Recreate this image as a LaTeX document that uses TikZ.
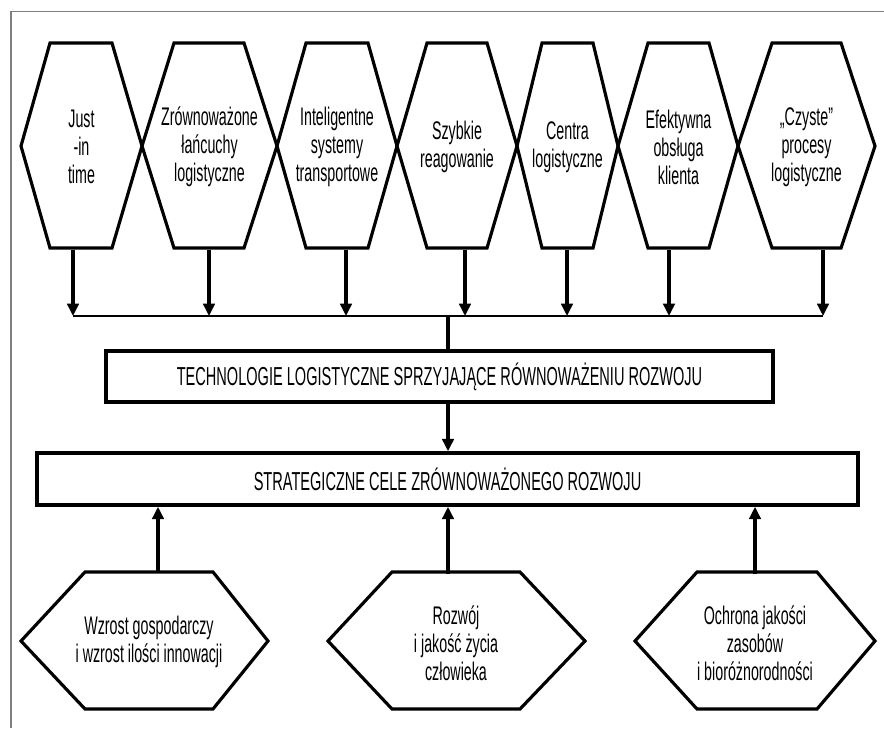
\documentclass[tikz,border=0pt]{standalone}
\usepackage{fontspec}
\setmainfont{Liberation Sans}[FakeStretch=0.56]
\usetikzlibrary{arrows.meta}

\begin{document}
\begin{tikzpicture}[x=0.02cm,y=-0.02cm,
  hexline/.style={line width=1.8pt,line join=miter},
  hexnode/.style={align=center,inner sep=0pt,minimum width=2cm,font=\fontsize{14.5}{16}\selectfont},
  goalbox/.style={draw,line width=2pt,inner sep=0pt,font=\fontsize{14.8}{17}\selectfont},
  arr/.style={line width=1.9pt,-{Triangle[length=7pt,width=6.5pt]}}]
\useasboundingbox (0,0) rectangle (884,728);
\draw[gray,line width=0.6pt] (11,728) -- (11,11.5) -- (884,11.5);

% top row
\draw[hexline] (21,146) -- (50,43) -- (112,43) -- (142,146) -- (112,248) -- (50,248) -- cycle;
\draw[hexline] (142,146) -- (174,43) -- (244,43) -- (277,146) -- (244,248) -- (174,248) -- cycle;
\draw[hexline] (277,146) -- (306,43) -- (368,43) -- (397,146) -- (368,248) -- (306,248) -- cycle;
\draw[hexline] (397,146) -- (427,43) -- (487,43) -- (517,146) -- (487,248) -- (427,248) -- cycle;
\draw[hexline] (517,146) -- (542,43) -- (593,43) -- (618,146) -- (593,248) -- (542,248) -- cycle;
\draw[hexline] (618,146) -- (648,43) -- (709,43) -- (738,146) -- (709,248) -- (648,248) -- cycle;
\draw[hexline] (738,146) -- (772,43) -- (841,43) -- (875,146) -- (841,248) -- (772,248) -- cycle;
\node[hexnode,minimum height=4.1cm] (t1) at (81.5,147) {Just\\-in\\time};
\node[hexnode,minimum height=4.1cm] (t2) at (209.5,147) {Zrównoważone\\łańcuchy\\logistyczne};
\node[hexnode,minimum height=4.1cm] (t3) at (337,147) {Inteligentne\\systemy\\transportowe};
\node[hexnode,minimum height=4.1cm] (t4) at (457,147) {Szybkie\\reagowanie};
\node[hexnode,minimum height=4.1cm] (t5) at (567.5,147) {Centra\\logistyczne};
\node[hexnode,minimum height=4.1cm] (t6) at (678.5,147) {Efektywna\\obsługa\\klienta};
\node[hexnode,minimum height=4.1cm] (t7) at (806.5,147) {„Czyste”\\procesy\\logistyczne};

\coordinate (a1) at (73,316);
\coordinate (a2) at (209,316);
\coordinate (a3) at (346,316);
\coordinate (a4) at (465,316);
\coordinate (a5) at (567,316);
\coordinate (a6) at (669,316);
\coordinate (a7) at (823,316);
\coordinate (bus) at (448,316);
\draw[arr] (a1 |- t1.south) -- (a1);
\draw[arr] (a2 |- t2.south) -- (a2);
\draw[arr] (a3 |- t3.south) -- (a3);
\draw[arr] (a4 |- t4.south) -- (a4);
\draw[arr] (a5 |- t5.south) -- (a5);
\draw[arr] (a6 |- t6.south) -- (a6);
\draw[arr] (a7 |- t7.south) -- (a7);
\draw[line width=1.5pt] (a1) -- (a7);

% boxes
\node[goalbox,minimum width=13.34cm,minimum height=1.02cm] (tech) at (439.5,376.5) {TECHNOLOGIE LOGISTYCZNE SPRZYJAJĄCE RÓWNOWAŻENIU ROZWOJU};
\node[goalbox,minimum width=16.42cm,minimum height=1.04cm] (cele) at (447.5,479) {STRATEGICZNE CELE ZRÓWNOWAŻONEGO ROZWOJU};
\draw[line width=1.9pt] (bus) -- (bus |- tech.north);
\draw[arr] (bus |- tech.south) -- (bus |- cele.north);

% bottom row
\draw[hexline] (21,641) -- (85,572) -- (213,572) -- (268,641) -- (213,709) -- (85,709) -- cycle;
\draw[hexline] (328,641) -- (392,572) -- (520,572) -- (585,641) -- (520,709) -- (392,709) -- cycle;
\draw[hexline] (635,641) -- (697,572) -- (817,572) -- (875,641) -- (817,709) -- (697,709) -- cycle;
\node[hexnode,minimum height=2.74cm] (g1) at (149,642) {Wzrost gospodarczy\\i wzrost ilości innowacji};
\node[hexnode,minimum height=2.74cm] (g2) at (456,643) {Rozwój\\i jakość życia\\człowieka};
\node[hexnode,minimum height=2.74cm] (g3) at (755,643) {Ochrona jakości\\zasobów\\i bioróżnorodności};

\coordinate (u1) at (158,540);
\coordinate (u2) at (448,540);
\coordinate (u3) at (755,540);
\draw[arr] (u1 |- g1.north) -- (u1 |- cele.south);
\draw[arr] (u2 |- g2.north) -- (u2 |- cele.south);
\draw[arr] (u3 |- g3.north) -- (u3 |- cele.south);

\end{tikzpicture}
\end{document}
